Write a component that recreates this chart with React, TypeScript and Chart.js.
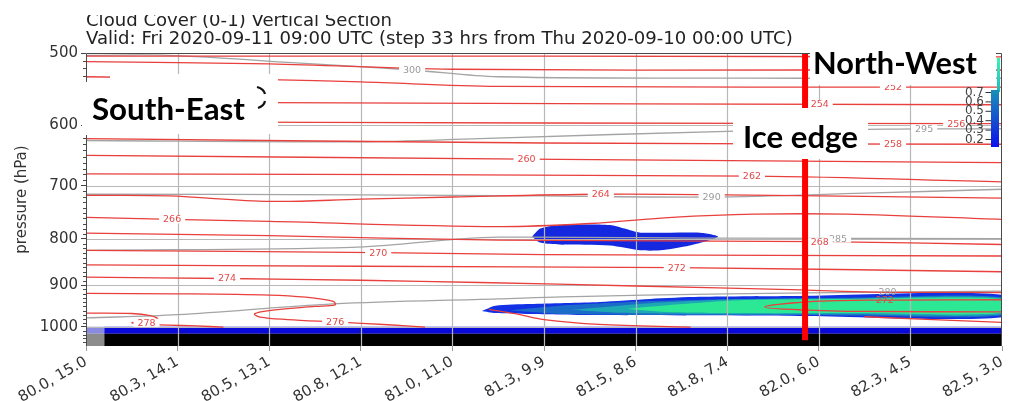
import React, { useEffect, useRef } from 'react';
import { Chart, registerables } from 'chart.js';

Chart.register(...registerables);

type Pt = [number, number];

// ---------- axes ----------
const xLabels = ['80.0, 15.0', '80.3, 14.1', '80.5, 13.1', '80.8, 12.1', '81.0, 11.0', '81.3, 9.9', '81.5, 8.6', '81.8, 7.4', '82.0, 6.0', '82.3, 4.5', '82.5, 3.0'];
const yTickValues = [500, 600, 700, 800, 900, 1000];
const yMin = 500;
const yMax = 1050;
const titleLines = ['Cloud Cover (0-1) Vertical Section', 'Valid: Fri 2020-09-11 09:00 UTC (step 33 hrs from Thu 2020-09-10 00:00 UTC)'];
const yAxisTitle = 'pressure (hPa)';
const colorbarTicks = ['0.7', '0.6', '0.5', '0.4', '0.3', '0.2'];

// ---------- temperature isotherms (K): [x position (label index), pressure hPa] ----------
const t248: Pt[] = [[0, 504], [5, 504], [10, 505]];
const t250: Pt[] = [[0, 511], [2, 514], [4, 521], [8, 522], [10, 522]];
const t252: Pt[] = [[0, 531], [2, 535], [3, 538], [4.5, 544], [10, 545]];
const t254: Pt[] = [[0, 564], [2, 567], [10, 570]];
const t256: Pt[] = [[0, 595], [5, 597], [10, 598]];
const t258: Pt[] = [[0, 621], [5, 628], [10, 630]];
const t260: Pt[] = [[0, 648], [4.8, 654], [10, 660]];
const t262: Pt[] = [[0, 679], [7.3, 683], [10, 693]];
const t264: Pt[] = [[0, 717], [0.9, 718], [2.0, 728], [3.0, 724], [4.0, 720], [5.6, 715], [7, 716], [10, 722]];
const t266: Pt[] = [[0, 758], [0.94, 762], [2, 766], [4.5, 776], [5.5, 770], [6.4, 758], [7.3, 752], [8.3, 752], [10, 762]];
const t268: Pt[] = [[0, 789], [2, 794], [4.5, 803], [8.0, 806], [10, 812]];
const t270: Pt[] = [[0, 824], [3.2, 829], [5, 833], [10, 836]];
const t272: Pt[] = [[0, 855], [3, 858], [6.45, 861], [10, 870]];
const t274: Pt[] = [[0, 882], [1.54, 885], [3, 889], [4.3, 894], [6, 902], [7.8, 911], [8.6, 916], [10, 917]];
const t276: Pt[] = [[0, 919], [1, 920], [2.0, 923], [2.4, 928], [2.7, 938], [2.72, 946], [2.5, 950], [2.0, 960], [1.84, 968], [1.9, 976], [2.2, 982], [2.72, 988], [3.3, 995], [3.7, 1001]];
const t276b: Pt[] = [[4.4, 957], [4.7, 968], [5.0, 982], [5.6, 994], [6.6, 1001]];
const t276c: Pt[] = [[8.5, 975], [10, 989]];
const t272b: Pt[] = [[10, 934], [8.5, 935], [7.8, 940], [7.41, 951], [7.8, 958], [8.5, 962], [10, 963]];
const t278: Pt[] = [[0, 966], [0.5, 967], [0.7, 972], [0.78, 980], [0.6, 986], [0.5, 990], [0.6, 994], [0.9, 996], [1.2, 998], [1.5, 1001]];
const isotherms = [t248, t250, t252, t254, t256, t258, t260, t262, t264, t266, t268, t270, t272, t274, t276, t276b, t276c, t272b, t278];

// ---------- potential temperature (K), grey ----------
const th300: Pt[] = [[0, 503], [0.9, 503], [2.34, 513], [3.56, 522], [4.5, 531], [7.8, 533], [10, 533]];
const th295: Pt[] = [[0, 624], [3, 626], [4.3, 621], [7.2, 609], [9.1, 606], [10, 606]];
const th290: Pt[] = [[0, 715], [3, 716], [5, 718], [6.83, 720], [8.5, 713], [10, 706]];
const th285: Pt[] = [[0, 824], [2.9, 818], [4.0, 802], [4.5, 797], [7, 799], [10, 800]];
const th280: Pt[] = [[0, 978], [1, 970], [2.7, 944], [4.5, 932], [5.2, 927], [7, 920], [8.75, 916], [10, 914]];
const isentropes = [th300, th295, th290, th285, th280];

// ---------- contour labels ----------
const redLabelText = ['252', '254', '256', '258', '260', '262', '264', '266', '268', '270', '272', '274', '276', '278', '272'];
const redLabelX = [8.81, 8.01, 9.5, 8.81, 4.81, 7.27, 5.62, 0.94, 8.01, 3.19, 6.45, 1.54, 2.72, 0.66, 8.72];
const redLabelP = [545, 569, 598, 630, 654, 683, 715, 762, 806, 829, 861, 885, 988, 990, 934];
const redLabelInline = [true, true, true, true, true, true, true, true, true, true, true, true, true, true, false];
const greyLabelText = ['300', '295', '290', '285', '280'];
const greyLabelX = [3.56, 9.15, 6.83, 8.21, 8.75];
const greyLabelP = [522, 606, 720, 800, 916];
const greyLabelInline = [true, true, true, true, false];

// ---------- cloud cover areas ----------
const cloudMid: Pt[] = [[4.87, 796], [4.96, 780], [5.17, 773], [5.72, 773], [5.88, 780], [6.05, 788], [6.7, 788], [6.9, 796], [6.59, 814], [6.27, 824], [6.05, 824], [5.72, 814], [5.17, 812], [4.96, 808], [4.87, 796]];
const cloudLowOuter: Pt[] = [[4.32, 961], [4.47, 948], [4.85, 944], [5.61, 939], [6.16, 932], [6.7, 927], [7.79, 925], [10, 922], [10, 976], [7.79, 973], [5.61, 971], [4.8, 968], [4.47, 966], [4.32, 961]];
const cloudLowMid: Pt[] = [[4.63, 959], [5.17, 948], [6.16, 937], [7.14, 932], [8.34, 929], [10, 928], [10, 972], [8.34, 972], [6.7, 971], [5.17, 968], [4.63, 959]];
const cloudLowTeal: Pt[] = [[5.3, 958], [6.16, 942], [7.14, 933], [8.34, 931], [10, 930], [10, 969], [8.34, 969], [6.7, 968], [5.8, 965], [5.3, 958]];
const cloudLowCore: Pt[] = [[5.9, 956], [6.4, 946], [7.14, 935], [8.34, 932], [10, 932], [10, 966], [8.34, 966], [7.14, 966], [6.4, 964], [5.9, 956]];

// ---------- ground ----------
const groundBlue: Pt[] = [[0.2, 1000], [10, 1000], [10, 1018], [0.2, 1018]];
const groundBlack: Pt[] = [[0.2, 1018], [10, 1018], [10, 1050], [0.2, 1050]];
const groundLeftTop: Pt[] = [[0, 1000], [0.2, 1000], [0.2, 1018], [0, 1018]];
const groundLeftBottom: Pt[] = [[0, 1018], [0.2, 1018], [0.2, 1050], [0, 1050]];

// ---------- ice edge ----------
const iceEdgeX = [7.85, 7.85];
const iceEdgeP = [500, 1035];

const toXY = (pts: Pt[]) => pts.map(([x, y]) => ({ x, y }));

const lineDs = (pts: Pt[], color: string, width: number, order: number, tension = 0.35) => ({
  type: 'line' as const,
  data: toXY(pts),
  borderColor: color,
  borderWidth: width,
  pointRadius: 0,
  fill: false,
  tension,
  order,
});

const polyDs = (pts: Pt[], color: string, order: number, tension = 0.25) => ({
  type: 'line' as const,
  data: toXY(pts),
  borderColor: color,
  borderWidth: 0,
  backgroundColor: color,
  pointRadius: 0,
  fill: 'shape',
  tension,
  order,
});

const FONT = 'DejaVu Sans';

function fitSize(ctx: CanvasRenderingContext2D, text: string, weight: string, family: string, width: number) {
  ctx.font = `${weight} 100px "${family}"`;
  const w = ctx.measureText(text).width;
  return (100 * width) / w;
}

function drawLabels(chart: any, texts: string[], xs: number[], ps: number[], inline: boolean[], color: string) {
  const { ctx, scales } = chart;
  ctx.save();
  ctx.font = `9.5px "${FONT}"`;
  ctx.textAlign = 'center';
  ctx.textBaseline = 'middle';
  texts.forEach((t, i) => {
    const px = scales.x.getPixelForValue(xs[i]);
    const py = scales.y.getPixelForValue(ps[i]);
    const w = ctx.measureText(t).width;
    if (inline[i]) {
      ctx.fillStyle = '#ffffff';
      ctx.fillRect(px - w / 2 - 4, py - 4, w + 8, 8);
    }
    ctx.fillStyle = color;
    ctx.fillText(t, px, py + 0.5);
  });
  ctx.restore();
}

const overlayPlugin = {
  id: 'overlay',
  beforeDatasetDraw(chart: any, args: any) {
    const ds: any = chart.data.datasets[args.index];
    if (!ds || !ds.gridMarker) return;
    const { ctx, chartArea: a, scales } = chart;
    ctx.save();
    ctx.strokeStyle = '#b8b8b8';
    ctx.lineWidth = 1.2;
    ctx.beginPath();
    xLabels.forEach((_, i) => {
      if (i === 0 || i === xLabels.length - 1) return;
      const px = Math.round(scales.x.getPixelForValue(i)) + 0.5;
      ctx.moveTo(px, a.top);
      ctx.lineTo(px, a.bottom);
    });
    yTickValues.forEach((v) => {
      if (v === yMin) return;
      const py = Math.round(scales.y.getPixelForValue(v)) + 0.5;
      ctx.moveTo(a.left, py);
      ctx.lineTo(a.right, py);
    });
    ctx.stroke();
    ctx.restore();
  },
  afterDatasetsDraw(chart: any) {
    drawLabels(chart, greyLabelText, greyLabelX, greyLabelP, greyLabelInline, '#9a9a9a');
    drawLabels(chart, redLabelText, redLabelX, redLabelP, redLabelInline, '#e24848');
    // ice edge
    const { ctx, scales } = chart;
    ctx.save();
    ctx.strokeStyle = '#ff0000';
    ctx.lineWidth = 6;
    ctx.beginPath();
    ctx.moveTo(scales.x.getPixelForValue(iceEdgeX[0]), scales.y.getPixelForValue(iceEdgeP[0]));
    ctx.lineTo(scales.x.getPixelForValue(iceEdgeX[1]), scales.y.getPixelForValue(iceEdgeP[1]));
    ctx.stroke();
    ctx.restore();
  },
  afterDraw(chart: any) {
    const { ctx, chartArea: a, scales } = chart;
    ctx.save();
    // frame
    ctx.strokeStyle = '#4a4a4a';
    ctx.lineWidth = 1;
    ctx.beginPath();
    ctx.moveTo(a.left + 0.5, a.bottom);
    ctx.lineTo(a.left + 0.5, a.top + 0.5);
    ctx.lineTo(a.right - 0.5, a.top + 0.5);
    ctx.lineTo(a.right - 0.5, a.bottom);
    ctx.stroke();
    // minor ticks every 10 hPa
    ctx.beginPath();
    for (let p = yMin + 10; p < yMax; p += 10) {
      if (p % 100 === 0) continue;
      const py = Math.round(scales.y.getPixelForValue(p)) + 0.5;
      ctx.moveTo(a.left - 3, py);
      ctx.lineTo(a.left, py);
    }
    ctx.stroke();

    // white annotation boxes
    ctx.fillStyle = '#ffffff';
    ctx.fillRect(110, 74, 168, 60); // South-East
    ctx.fillRect(82, 82, 30, 53);
    ctx.fillRect(810, 36, 186, 49); // North-West
    ctx.fillRect(733, 108, 135, 51); // Ice edge

    const boxFont = 'Lato';
    ctx.fillStyle = '#000000';
    ctx.textBaseline = 'alphabetic';
    ctx.textAlign = 'left';
    let s = fitSize(ctx, 'South-East', 'bold', boxFont, 153);
    ctx.font = `bold ${s}px "${boxFont}"`;
    ctx.fillText('South-East', 92, 120);
    s = fitSize(ctx, 'North-West', 'bold', boxFont, 164);
    ctx.font = `bold ${s}px "${boxFont}"`;
    ctx.fillText('North-West', 813, 74);
    s = fitSize(ctx, 'Ice edge', 'bold', boxFont, 115);
    ctx.font = `bold ${s}px "${boxFont}"`;
    ctx.fillText('Ice edge', 743, 148);

    // remnant marks right of South-East box
    ctx.strokeStyle = '#111';
    ctx.lineWidth = 2.2;
    ctx.beginPath();
    ctx.moveTo(257, 87);
    ctx.quadraticCurveTo(264, 89, 265, 94);
    ctx.moveTo(265, 101);
    ctx.quadraticCurveTo(264, 106, 258, 108);
    ctx.stroke();

    // colorbar
    const g1 = ctx.createLinearGradient(0, 58, 0, 92);
    g1.addColorStop(0, '#3cf4b0');
    g1.addColorStop(1, '#1ab8c0');
    ctx.fillStyle = g1;
    ctx.fillRect(997, 58, 3, 34);
    const g2 = ctx.createLinearGradient(0, 92, 0, 147);
    g2.addColorStop(0, '#1a8cb8');
    g2.addColorStop(0.5, '#1450d0');
    g2.addColorStop(1, '#0a10ec');
    ctx.fillStyle = g2;
    ctx.fillRect(991, 90, 8, 57);
    ctx.strokeStyle = '#333';
    ctx.lineWidth = 1;
    ctx.font = `12px "${FONT}"`;
    ctx.fillStyle = '#444';
    ctx.textAlign = 'right';
    ctx.textBaseline = 'middle';
    colorbarTicks.forEach((t, i) => {
      const py = 92 + i * 9.4;
      ctx.beginPath();
      ctx.moveTo(985.5, py + 0.5);
      ctx.lineTo(991, py + 0.5);
      ctx.stroke();
      ctx.fillText(t, 984, py + 0.5);
    });

    // title
    ctx.fillStyle = '#222';
    ctx.textAlign = 'left';
    ctx.textBaseline = 'alphabetic';
    s = fitSize(ctx, titleLines[1], 'normal', FONT, 707);
    ctx.font = `${s}px "${FONT}"`;
    ctx.fillText(titleLines[0], 86, 26);
    ctx.fillText(titleLines[1], 86, 44);
    ctx.fillStyle = '#ffffff';
    ctx.fillRect(0, 0, 600, 15);

    // y axis title
    ctx.fillStyle = '#333';
    ctx.font = `15px "${FONT}"`;
    ctx.textAlign = 'center';
    ctx.textBaseline = 'middle';
    ctx.translate(22, (a.top + a.bottom) / 2);
    ctx.rotate(-Math.PI / 2);
    ctx.fillText(yAxisTitle, 0, 0);
    ctx.restore();
  },
};

export default function App() {
  const ref = useRef<HTMLCanvasElement>(null);
  useEffect(() => {
    document.body.style.margin = '0';
    const canvas = ref.current;
    if (!canvas) return;
    const datasets: any[] = [
      polyDs(groundBlack, '#000000', 100, 0),
      polyDs(groundBlue, '#0a0ad8', 100, 0),
      polyDs(groundLeftBottom, '#8c8c8c', 100, 0),
      polyDs(groundLeftTop, '#8a8ae0', 100, 0),
      polyDs(cloudMid, '#1428e0', 95),
      polyDs(cloudLowOuter, '#1230e4', 94),
      polyDs(cloudLowMid, '#1a6cc8', 93),
      polyDs(cloudLowTeal, '#1ea8b4', 92),
      polyDs(cloudLowCore, '#2ce894', 91),
      { type: 'line', data: [], gridMarker: true, order: 80, pointRadius: 0, borderWidth: 0 },
      ...isentropes.map((pts) => lineDs(pts, '#a4a4a4', 1.3, 50)),
      ...isotherms.map((pts) => lineDs(pts, '#e8403c', 1.3, 40)),
    ];
    const chart = new Chart(canvas, {
      type: 'line',
      data: { datasets },
      plugins: [overlayPlugin as any],
      options: {
        responsive: false,
        animation: false,
        events: [],
        layout: { padding: { top: 53, right: 7, left: 0, bottom: 0 } },
        plugins: { legend: { display: false }, tooltip: { enabled: false }, title: { display: false } },
        scales: {
          x: {
            type: 'linear',
            min: 0,
            max: 10,
            afterBuildTicks: (sc: any) => {
              sc.ticks = xLabels.map((_, i) => ({ value: i }));
            },
            afterFit: (sc: any) => {
              sc.height = 55;
              sc.paddingLeft = 0;
              sc.paddingRight = 0;
            },
            border: { display: false },
            grid: { drawOnChartArea: false, drawTicks: true, tickLength: 5, tickColor: '#999', color: '#999' },
            ticks: {
              autoSkip: false,
              minRotation: 30,
              maxRotation: 30,
              padding: 2,
              color: '#333',
              font: { family: FONT, size: 15 },
              callback: (v: any) => xLabels[Math.round(Number(v))] ?? '',
            },
          },
          y: {
            type: 'logarithmic',
            reverse: true,
            min: yMin,
            max: yMax,
            afterBuildTicks: (sc: any) => {
              sc.ticks = yTickValues.map((v) => ({ value: v }));
            },
            afterFit: (sc: any) => {
              sc.width = 86;
              sc.paddingTop = 0;
              sc.paddingBottom = 0;
            },
            border: { display: false },
            grid: { drawOnChartArea: false, drawTicks: true, tickLength: 5, tickColor: '#444', color: '#444' },
            ticks: {
              padding: 3,
              color: '#333',
              font: { family: FONT, size: 15 },
              callback: (v: any) => String(v),
            },
          },
        },
      } as any,
    });
    return () => chart.destroy();
  }, []);
  return <canvas ref={ref} width={1009} height={401} style={{ display: 'block' }} />;
}
